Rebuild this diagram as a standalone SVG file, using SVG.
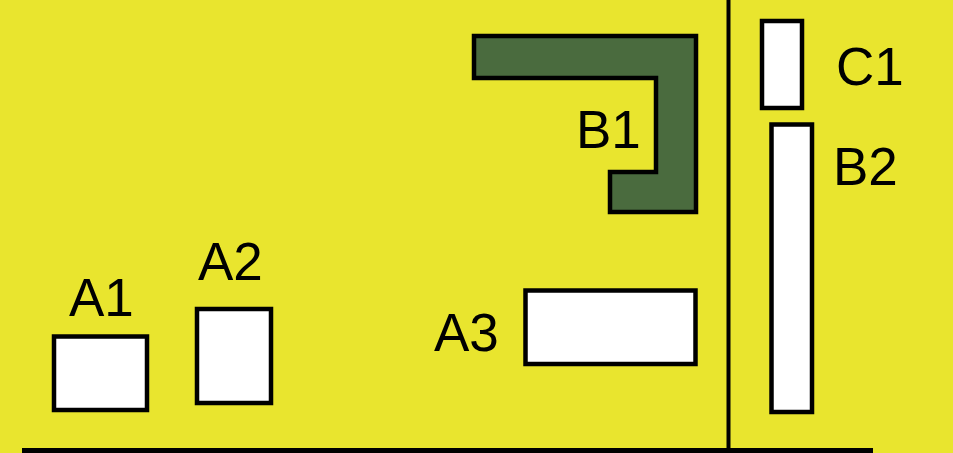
<svg xmlns="http://www.w3.org/2000/svg" width="953" height="453" viewBox="0 0 953 453">
<style>
.box{fill:#ffffff;stroke:#000000;stroke-width:4.5}
.lbl{font-family:"Liberation Sans",Arial,sans-serif;font-size:53px;fill:#000000}
.wall{stroke:#000000;fill:none}
</style>
<rect x="0" y="0" width="953" height="453" fill="#e9e52e"/>
<g id="walls">
<line class="wall" x1="728.5" y1="0" x2="728.5" y2="451" stroke-width="4"/>
<line class="wall" x1="22" y1="450.5" x2="873" y2="450.5" stroke-width="5"/>
</g>
<g id="B1">
<polygon points="474,36 696,36 696,212 610,212 610,172 656,172 656,78 474,78" fill="#4a6b3e" stroke="#000" stroke-width="4.5"/>
<text class="lbl" x="576" y="148">B1</text>
</g>
<g id="A1">
<rect class="box" x="54" y="336.5" width="93" height="73.5"/>
<text class="lbl" x="69" y="316">A1</text>
</g>
<g id="A2">
<rect class="box" x="197" y="309" width="74" height="94"/>
<text class="lbl" x="198" y="280">A2</text>
</g>
<g id="A3">
<rect class="box" x="525.5" y="290.5" width="170" height="73.5"/>
<text class="lbl" x="434" y="351">A3</text>
</g>
<g id="C1">
<rect class="box" x="762" y="21" width="40" height="87"/>
<text class="lbl" x="836" y="85">C1</text>
</g>
<g id="B2">
<rect class="box" x="771.5" y="124.5" width="40.5" height="287.5"/>
<text class="lbl" x="833" y="185">B2</text>
</g>
</svg>
